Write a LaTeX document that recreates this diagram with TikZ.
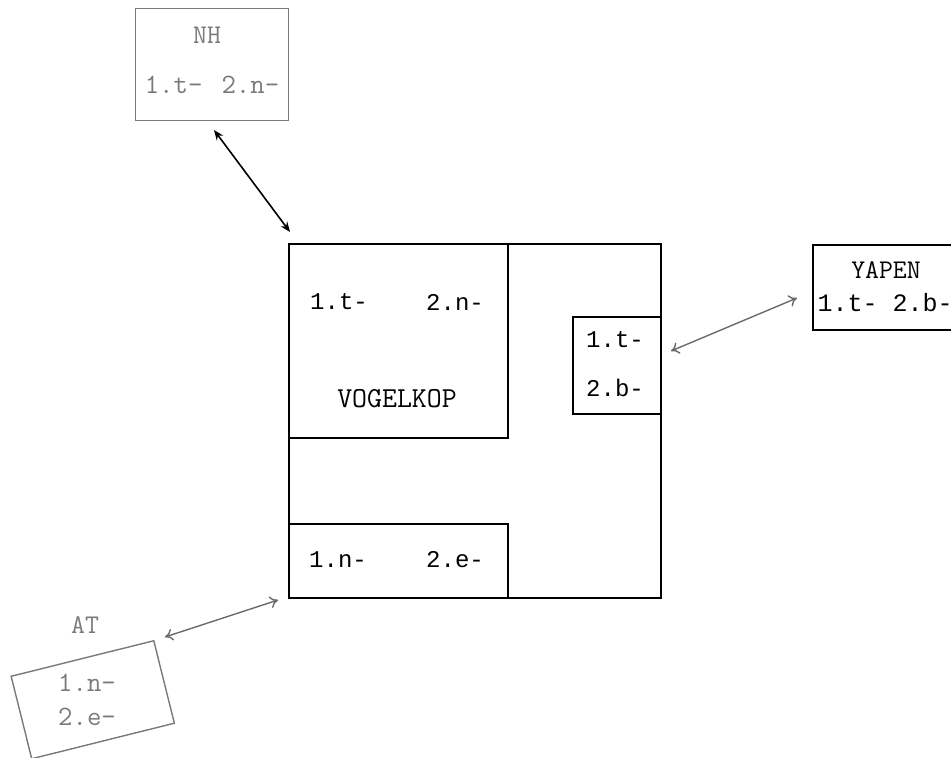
\documentclass[tikz,border=0pt]{standalone}
\usepackage{fontspec}
\newfontfamily\labfont{Liberation Mono}
\usetikzlibrary{arrows.meta}
\definecolor{pale}{HTML}{7A7A7A}
\definecolor{arrowgray}{HTML}{6A6A6A}
\tikzset{
  box/.style={draw, line width=0.9pt, inner sep=0pt, anchor=north west},
  palebox/.style={draw=pale, line width=0.7pt, inner sep=0pt, anchor=north west},
  title/.style={inner sep=0pt, font=\ttfamily\fontsize{13.5}{13.5}\selectfont},
  paletitle/.style={title, text=pale},
  lab/.style={inner sep=0pt, font=\labfont\fontsize{12}{12}\selectfont},
  palelab/.style={inner sep=0pt, text=pale, font=\ttfamily\fontsize{14}{14}\selectfont},
  blackarrow/.style={line width=0.8pt, {Stealth[length=5pt,width=4pt]}-{Stealth[length=5pt,width=4pt]}},
  grayarrow/.style={draw=arrowgray, line width=0.7pt, {To[length=4pt,width=6pt]}-{To[length=4pt,width=6pt]}}
}
\begin{document}
\begin{tikzpicture}[x=0.5pt,y=-0.5pt]
\useasboundingbox (0,0) rectangle (951,758);
% main square and inner boxes
\node[box, minimum width=186pt, minimum height=177pt] (main) at (288,243) {};
\node[box, minimum width=109.5pt, minimum height=97pt] (vogel) at (288,243) {};
\node[box, minimum width=44pt, minimum height=48.5pt] (rbox) at (572,316) {};
\node[box, minimum width=109.5pt, minimum height=37pt] (bbox) at (288,523) {};
\node[lab] (v1) at (339,302) {1.t-};
\node[lab] (v2) at (455,302) {2.n-};
\node[title, font=\ttfamily\fontsize{14.5}{14.5}\selectfont] (vk) at (397,399) {VOGELKOP};
\node[lab] (r1) at (615,340) {1.t-};
\node[lab] (r2) at (615,388) {2.b-};
\node[lab] (b1) at (338,560) {1.n-};
\node[lab] (b2) at (455,560) {2.e-};
% NH
\node[palebox, minimum width=76.5pt, minimum height=56pt] (nh) at (135,8) {};
\node[paletitle] (nht) at (207,35) {NH};
\node[palelab] (nhl) at (212,85) {1.t-\ \,2.n-};
% YAPEN
\node[box, minimum width=71.5pt, minimum height=42.5pt] (yapen) at (812,244) {};
\node[title] (yt) at (886,270) {YAPEN};
\node[lab, font=\labfont\fontsize{12.5}{12.5}\selectfont] (yl) at (885,303) {1.t- 2.b-};
% AT
\node[paletitle] (att) at (85,625) {AT};
\node[draw=pale, line width=0.7pt, inner sep=0pt, minimum width=73.5pt, minimum height=42.5pt, rotate=14] (at) at (92.75,699.75) {};
\node[palelab] (at1) at (87,683) {1.n-};
\node[palelab] (at2) at (87,717) {2.e-};
% connectors
\coordinate (nhend) at (214,130);
\coordinate (mainnw) at (290,232);
\draw[blackarrow] (nhend) -- (mainnw);
\coordinate (rl) at (671,351);
\coordinate (yl0) at (797,298);
\draw[grayarrow] (rl) -- (yl0);
\coordinate (atr) at (165,637);
\coordinate (mainsw) at (278,600);
\draw[grayarrow] (atr) -- (mainsw);
\end{tikzpicture}
\end{document}
